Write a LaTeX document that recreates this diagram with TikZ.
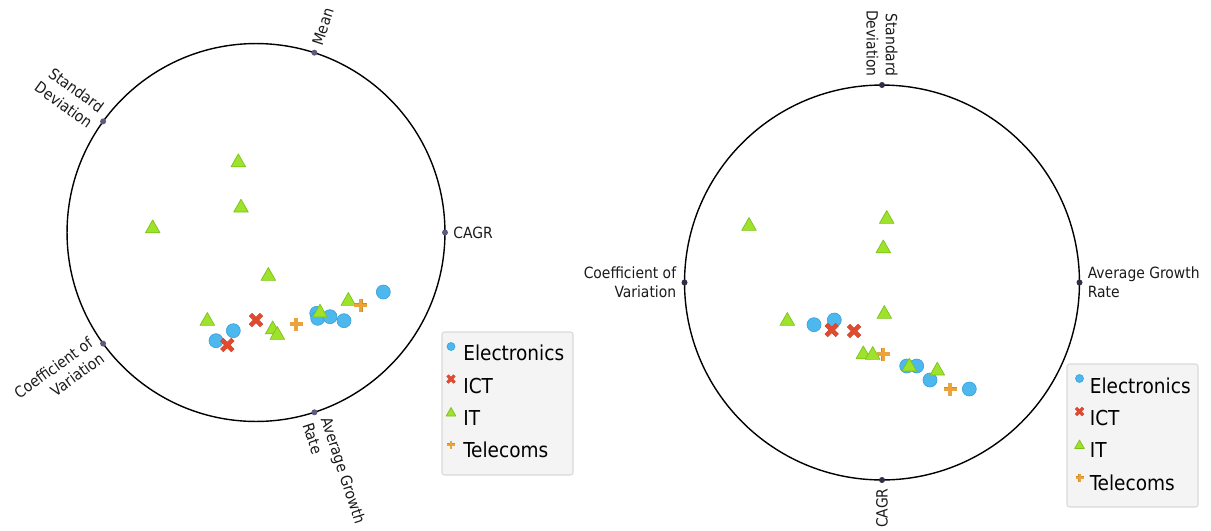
\documentclass[tikz,border=0pt]{standalone}
\usepackage{fontspec}
\setmainfont{DejaVu Sans Condensed}
\definecolor{celec}{HTML}{4DB8EE}
\definecolor{celecd}{HTML}{3AA0DA}
\definecolor{cict}{HTML}{E04A2F}
\definecolor{cictd}{HTML}{C63A22}
\definecolor{cit}{HTML}{9EE22C}
\definecolor{citd}{HTML}{7CC21A}
\definecolor{ctel}{HTML}{EBA43C}
\definecolor{cteld}{HTML}{D08A28}
\definecolor{dotl}{HTML}{5B5B7D}
\definecolor{dotr}{HTML}{2E2E45}
\definecolor{legfill}{HTML}{F4F4F4}
\definecolor{legedge}{HTML}{D9D9D9}
\definecolor{txt}{HTML}{1A1A1A}
\tikzset{
  circ/.style={draw=black, line width=0.8pt},
  axislbl/.style={font=\fontsize{8.8}{11}\selectfont, text=txt, inner sep=0pt},
  legtxt/.style={font=\fontsize{11.7}{14}\selectfont, text=black, anchor=base west, inner sep=0pt},
  legbox/.style={fill=legfill, draw=legedge, line width=0.6pt, rounded corners=1.5pt},
  pics/elecm/.style={code={\path[fill=celec, draw=celecd, line width=0.35pt] (0,0) circle[radius=#1*0.02cm];}},
  pics/ictm/.style={code={
    \draw[cictd, line width=#1*0.34*0.02cm+0.4pt] (-#1/2,-#1/2) -- (#1/2,#1/2) (-#1/2,#1/2) -- (#1/2,-#1/2);
    \draw[cict, line width=#1*0.34*0.02cm] (-#1/2,-#1/2) -- (#1/2,#1/2) (-#1/2,#1/2) -- (#1/2,-#1/2);}},
  pics/itm/.style={code={\path[fill=cit, draw=citd, line width=0.4pt, line join=round] (0,-#1*0.5) -- (#1*0.54,#1*0.45) -- (-#1*0.54,#1*0.45) -- cycle;}},
  pics/telm/.style={code={
    \draw[cteld, line width=#1*0.25*0.02cm+0.4pt] (-#1/2,0) -- (#1/2,0) (0,-#1/2) -- (0,#1/2);
    \draw[ctel, line width=#1*0.25*0.02cm] (-#1/2,0) -- (#1/2,0) (0,-#1/2) -- (0,#1/2);}},
}
\begin{document}
\begin{tikzpicture}[x=0.02cm, y=-0.02cm]
\useasboundingbox (0,0) rectangle (1211,531);

% ---------- left RadViz ----------
\coordinate (LC) at (256,232.5);
\draw[circ] (LC) circle[radius=3.78cm];
\coordinate (LA0) at (445,232.5);
\coordinate (LA72) at (314.4,52.7);
\coordinate (LA144) at (103.1,121.4);
\coordinate (LA216) at (103.1,343.6);
\coordinate (LA288) at (314.4,412.3);
\foreach \c in {LA0,LA72,LA144,LA216,LA288} \fill[dotl] (\c) circle[radius=0.06cm];
\node[axislbl, anchor=west] (lCAGR) at (453,232.5) {CAGR};
\node[axislbl, anchor=west, rotate=72] (lMean) at (316.9,45.1) {Mean};
\node[axislbl, anchor=east, rotate=-36, align=right] (lSD) at (96.6,116.7) {Standard\\Deviation};
\node[axislbl, anchor=east, rotate=36, align=right] (lCV) at (96.6,348.3) {Coefficient of\\Variation};
\node[axislbl, anchor=west, rotate=-72, align=left] (lAGR) at (316.9,419.9) {Average Growth\\Rate};

\foreach \x/\y in {383.3/292, 316.7/313.3, 317.7/318.3, 330/316.7, 344/320.7, 233.3/330.7, 216/340.7}
  \pic at (\x,\y) {elecm=7};
\foreach \x/\y in {256/320, 227.3/345}
  \pic at (\x,\y) {ictm=11};
\foreach \x/\y in {238.3/160.7, 241/206, 152.7/226.7, 268.3/274.3, 207.3/319.3, 348.3/299.3, 320/311, 272.7/327.7, 277.3/333.3}
  \pic at (\x,\y) {itm=13.5};
\foreach \x/\y in {360.7/305.3, 296/324}
  \pic at (\x,\y) {telm=13};

% left legend
\path[legbox] (442,332) rectangle (573,475);
\pic at (451,346.5) {elecm=4};
\pic at (451,379) {ictm=7};
\pic at (451,412) {itm=9};
\pic at (451,444.5) {telm=8};
\node[legtxt] (lE) at (463,360.7) {Electronics};
\node[legtxt] (lI) at (463,393.1) {ICT};
\node[legtxt] (lT) at (463,425.5) {IT};
\node[legtxt] (lTe) at (463,457.9) {Telecoms};

% ---------- right RadViz ----------
\coordinate (RC) at (882,282.5);
\draw[circ] (RC) circle[radius=3.95cm];
\coordinate (RA0) at (1079.5,282.5);
\coordinate (RA90) at (882,85);
\coordinate (RA180) at (684.5,282.5);
\coordinate (RA270) at (882,480);
\foreach \c in {RA0,RA90,RA180,RA270} \fill[dotr] (\c) circle[radius=0.06cm];
\node[axislbl, anchor=west, align=left] (rAGR) at (1087.5,282.5) {Average Growth\\Rate};
\node[axislbl, anchor=east, align=right] (rCV) at (676.5,282.5) {Coefficient of\\Variation};
\node[axislbl, anchor=east, rotate=-90, align=right] (rSD) at (882,77) {Standard\\Deviation};
\node[axislbl, anchor=east, rotate=90] (rCAGR) at (882,488) {CAGR};

\foreach \x/\y in {814/324.7, 834.3/320, 906.7/366, 916.7/366, 930/380, 969.3/389}
  \pic at (\x,\y) {elecm=7};
\foreach \x/\y in {831.7/330, 854/331}
  \pic at (\x,\y) {ictm=11};
\foreach \x/\y in {749/224.3, 886.7/217.3, 883.3/246.7, 884.3/312.3, 787.3/319.3, 863.3/352.7, 872.7/353.3, 909.3/365, 937.3/369}
  \pic at (\x,\y) {itm=13.5};
\foreach \x/\y in {883.3/354, 950/389.3}
  \pic at (\x,\y) {telm=13};

% right legend
\path[legbox] (1067,364) rectangle (1198,507);
\pic at (1079.5,378.5) {elecm=4};
\pic at (1079.5,411.5) {ictm=7};
\pic at (1079.5,444.5) {itm=9};
\pic at (1079.5,477.5) {telm=8};
\node[legtxt] (rE) at (1089.5,393.3) {Electronics};
\node[legtxt] (rI) at (1089.5,425.6) {ICT};
\node[legtxt] (rT) at (1089.5,457.9) {IT};
\node[legtxt] (rTe) at (1089.5,490.2) {Telecoms};
\end{tikzpicture}
\end{document}
